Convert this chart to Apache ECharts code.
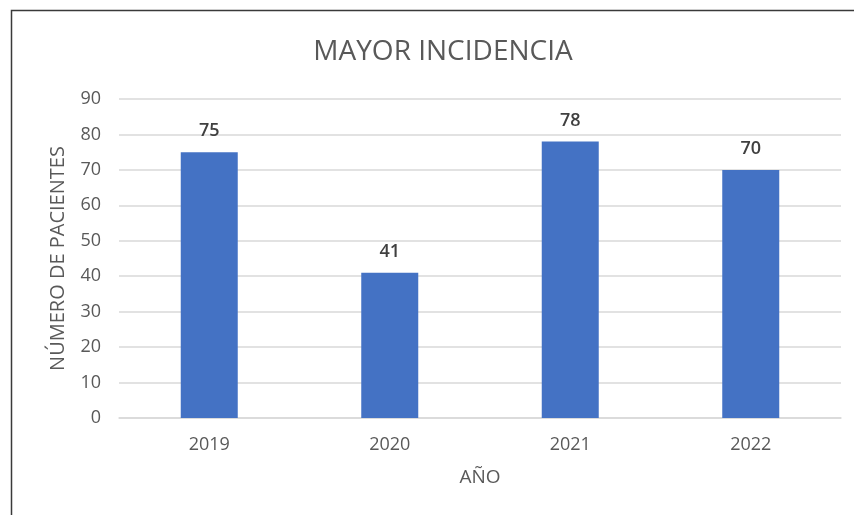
<!DOCTYPE html>
<html>
<head>
<meta charset="utf-8">
<script src="https://cdn.jsdelivr.net/npm/echarts@6/dist/echarts.min.js"></script>
<style>
  html, body { margin: 0; padding: 0; background: #fff; }
  #chart { width: 854px; height: 515px; }
</style>
</head>
<body>
<div id="chart"></div>
<script>
const years = ['2019', '2020', '2021', '2022'];
const patients = [75, 41, 78, 70];
const yTicks = [0, 10, 20, 30, 40, 50, 60, 70, 80, 90];

const chart = echarts.init(document.getElementById('chart'), null, { renderer: 'canvas' });

chart.setOption({
  backgroundColor: '#fff',
  textStyle: { fontFamily: 'Open Sans' },
  title: {
    text: 'MAYOR INCIDENCIA',
    left: 438,
    top: 33,
    textAlign: 'center',
    textStyle: { fontSize: 28, fontWeight: 'normal', color: '#595959', fontFamily: 'Open Sans' }
  },
  graphic: [{
    type: 'rect',
    shape: { x: 11.5, y: 10.5, width: 900, height: 600 },
    style: { fill: 'none', stroke: '#3a3a3a', lineWidth: 1.5 },
    silent: true
  }],
  grid: { left: 119, right: 13, top: 99, bottom: 97 },
  xAxis: {
    type: 'category',
    data: years,
    name: 'AÑO',
    nameLocation: 'middle',
    nameGap: 50,
    nameTextStyle: { fontSize: 19, color: '#595959' },
    axisLine: { show: true, lineStyle: { color: '#d9d9d9', width: 1.5 } },
    axisTick: { show: false },
    axisLabel: { fontSize: 18, color: '#595959', margin: 18 }
  },
  yAxis: {
    type: 'value',
    min: yTicks[0],
    max: yTicks[yTicks.length - 1],
    interval: 10,
    name: 'NÚMERO DE PACIENTES',
    nameLocation: 'middle',
    nameGap: 51,
    nameTextStyle: { fontSize: 20, color: '#595959' },
    axisLine: { show: false },
    axisTick: { show: false },
    axisLabel: { fontSize: 18, color: '#595959', margin: 18 },
    splitLine: { lineStyle: { color: '#d9d9d9', width: 1.5 } }
  },
  series: [{
    type: 'bar',
    data: patients,
    barWidth: 57,
    itemStyle: { color: '#4472c4' },
    label: {
      show: true,
      position: 'top',
      distance: 12,
      fontSize: 18,
      fontWeight: 600,
      color: '#404040'
    }
  }]
});
</script>
</body>
</html>
